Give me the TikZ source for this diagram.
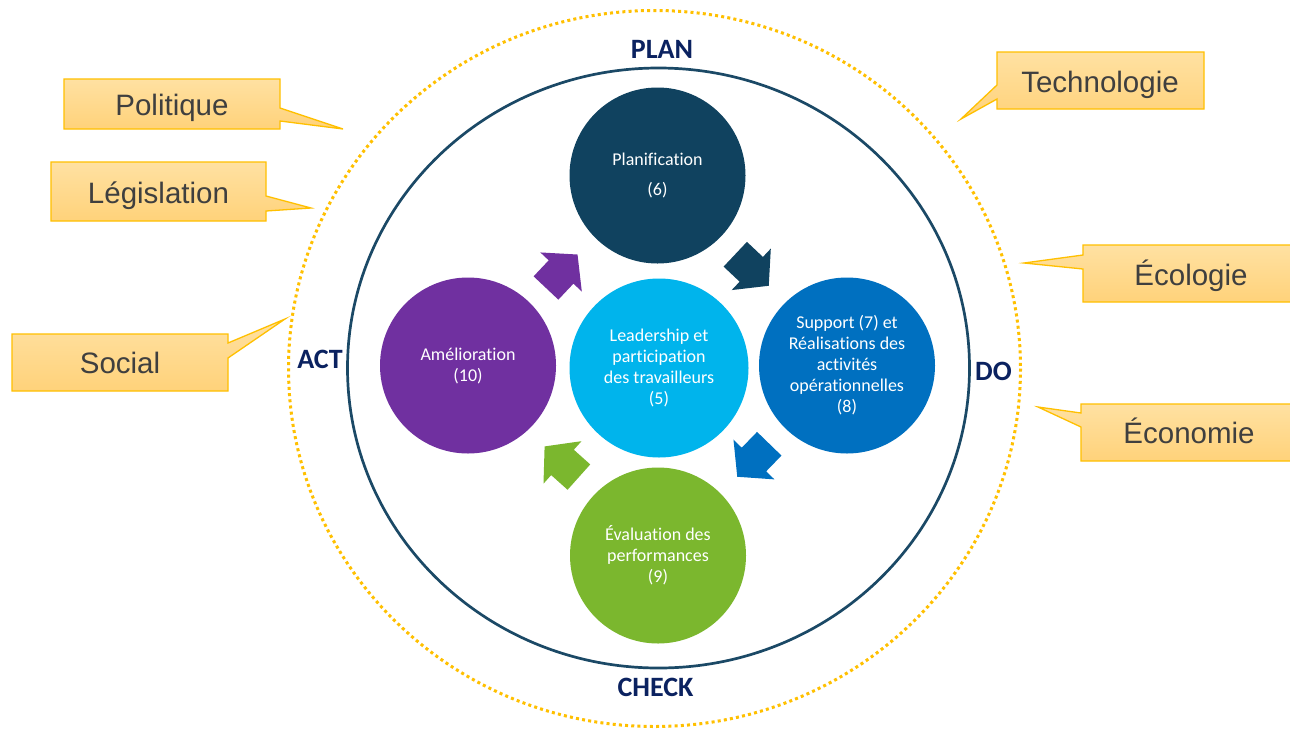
\documentclass[tikz,border=0pt]{standalone}
\usepackage{fontspec}
\setmainfont{Carlito}
\newfontfamily\arialf{Liberation Sans}
\newfontfamily\calib[Ligatures={NoCommon,NoContextual}]{Carlito}
\definecolor{planc}{HTML}{10425F}
\definecolor{leadc}{HTML}{00B4EC}
\definecolor{suppc}{HTML}{0070C0}
\definecolor{evalc}{HTML}{7BB72E}
\definecolor{amelc}{HTML}{7030A0}
\definecolor{innerc}{HTML}{1B4966}
\definecolor{dotc}{HTML}{FFC000}
\definecolor{phasec}{HTML}{0B2260}
\definecolor{callline}{HTML}{FFC000}
\definecolor{callt}{HTML}{FFE1A2}
\definecolor{callb}{HTML}{FFD27A}
\definecolor{calltextc}{HTML}{3F3F3F}
\begin{document}
\begin{tikzpicture}[x=1pt,y=-1pt,
  disc/.style={circle, minimum size=176pt, inner sep=0pt, text=white, align=center,
    font=\calib\fontsize{18}{21}\selectfont},
  phase/.style={font=\calib\bfseries\fontsize{28}{30}\selectfont, text=phasec, inner sep=0pt},
  callout/.style={draw=callline, line width=1.3pt, top color=callt, bottom color=callb, line join=miter},
  calltext/.style={font=\arialf\fontsize{29.5}{31}\selectfont, text=calltextc, anchor=base, inner sep=0pt},
  fatarrow/.pic={\path[pic actions] (-23,-17) -- (-1,-17) -- (-1,-28.5) -- (23,0) -- (-1,28.5) -- (-1,17) -- (-23,17) -- cycle;}
]
\useasboundingbox (0,0) rectangle (1290,729);
\clip (0,0) rectangle (1290,729);
\fill[white] (0,0) rectangle (1290,729);

% outer dotted ring and inner ring
\draw[dotc, line width=3pt, dash pattern=on 3pt off 3.2pt] (654.5,368.5) ellipse [x radius=366, y radius=358];
\draw[innerc, line width=2.7pt] (658.5,368) ellipse [x radius=311, y radius=300];

% PDCA labels
\node[phase] (plan) at (662,49) {PLAN};
\node[phase] (do) at (993.5,371) {DO};
\node[phase] (check) at (655.5,687.5) {CHECK};
\node[phase] (act) at (320,359.5) {ACT};

% discs
\node[disc, fill=planc] (planif) at (657.5,175.5) {Planification\\[9pt](6)};
\node[disc, fill=leadc, minimum size=179pt] (lead) at (659,368) {Leadership et\\participation\\des travailleurs\\(5)};
\node[disc, fill=suppc] (supp) at (847,365.5) {Support (7) et\\Réalisations des\\activités\\opérationnelles\\(8)};
\node[disc, fill=evalc] (eval) at (658,555.5) {Évaluation des\\performances\\(9)};
\node[disc, fill=amelc] (amel) at (468,365.5) {Amélioration\\(10)};

% block arrows
\pic[fill=amelc, rotate=46.7] at (561.75,271.25) {fatarrow};
\pic[fill=planc, rotate=-43.3] at (752,270) {fatarrow};
\pic[fill=suppc, rotate=-134.1] at (753.25,460.25) {fatarrow};
\pic[fill=evalc, rotate=138.2] at (561.75,461.75) {fatarrow};

% callouts
\path[callout] (64,79) -- (280,79) -- (280,108) -- (343,129) -- (280,121) -- (280,129) -- (64,129) -- cycle;
\node[calltext] (politique) at (172,115) {Politique};
\path[callout] (51,162) -- (266,162) -- (266,196) -- (311,208) -- (266,211) -- (266,221) -- (51,221) -- cycle;
\node[calltext] (legislation) at (158.5,203) {Législation};
\path[callout] (12,334) -- (228,334) -- (228,343) -- (285,319) -- (228,358) -- (228,391) -- (12,391) -- cycle;
\node[calltext] (social) at (120,373) {Social};
\path[callout] (997,52) -- (1204,52) -- (1204,109) -- (997,109) -- (997,99) -- (961,119) -- (997,85) -- cycle;
\node[calltext] (techno) at (1100,92) {Technologie};
\path[callout] (1083,245) -- (1299,245) -- (1299,302) -- (1083,302) -- (1083,269) -- (1024,263) -- (1083,255) -- cycle;
\node[calltext] (ecologie) at (1191,285) {Écologie};
\path[callout] (1081,404) -- (1297,404) -- (1297,461) -- (1081,461) -- (1081,427) -- (1038,407) -- (1081,413) -- cycle;
\node[calltext] (economie) at (1189,443) {Économie};
\end{tikzpicture}
\end{document}
